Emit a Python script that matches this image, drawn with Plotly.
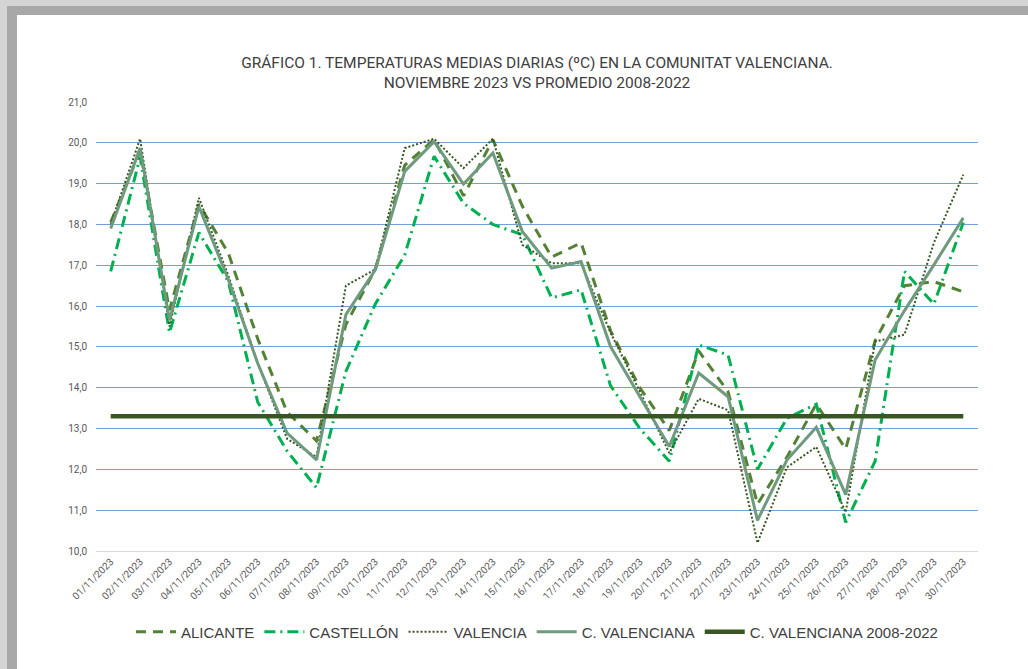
import plotly.graph_objects as go

dates = [f"{d:02d}/11/2023" for d in range(1, 31)]

alicante = [18.05, 19.8, 15.9, 18.5, 17.3, 15.2, 13.4, 12.7, 15.55, 16.9,
            19.45, 20.08, 18.7, 20.08, 18.45, 17.2, 17.55, 15.4, 14.0, 12.95,
            14.9, 13.9, 11.15, 12.3, 13.6, 12.5, 15.15, 16.5, 16.6, 16.35]
castellon = [16.85, 19.65, 15.35, 17.8, 16.6, 13.65, 12.45, 11.55, 14.4, 16.05,
             17.25, 19.67, 18.52, 18.0, 17.75, 16.2, 16.4, 14.05, 13.0, 12.2,
             15.05, 14.8, 12.0, 13.25, 13.6, 10.7, 12.2, 16.85, 16.05, 18.05]
valencia = [18.0, 20.1, 15.5, 18.65, 16.75, 14.6, 12.75, 12.3, 16.5, 16.9,
            19.87, 20.1, 19.38, 20.1, 17.5, 17.05, 17.05, 15.35, 13.9, 12.4,
            13.73, 13.45, 10.2, 12.05, 12.55, 10.95, 15.13, 15.3, 17.55, 19.22]
cvalenciana = [17.9, 19.87, 15.65, 18.44, 16.65, 14.6, 12.89, 12.23, 15.79, 16.89,
               19.3, 20.03, 18.99, 19.75, 17.83, 16.93, 17.09, 15.01, 13.78, 12.56,
               14.36, 13.78, 10.75, 12.23, 13.03, 11.38, 14.68, 15.89, 17.01, 18.16]
promedio = [13.3] * 30

W, H = 1028, 669
L, R, T, B = 96, 50, 102, 118
pw, ph = W - L - R, H - T - B

def px_x(p):
    return (p - L) / pw

def px_y(p):
    return (H - B - p) / ph

fig = go.Figure()
fig.add_trace(go.Scatter(x=dates, y=alicante, name="ALICANTE", mode="lines",
                         line=dict(color="#548235", width=3, dash="10px,7px")))
fig.add_trace(go.Scatter(x=dates, y=castellon, name="CASTELLÓN", mode="lines",
                         line=dict(color="#00B050", width=3, dash="11px,5px,2px,5px")))
fig.add_trace(go.Scatter(x=dates, y=valencia, name="VALENCIA", mode="lines",
                         line=dict(color="#375623", width=2, dash="2px,2px")))
fig.add_trace(go.Scatter(x=dates, y=cvalenciana, name="C. VALENCIANA", mode="lines",
                         line=dict(color="#6E9A7E", width=3)))
fig.add_trace(go.Scatter(x=dates, y=promedio, name="C. VALENCIANA 2008-2022", mode="lines",
                         line=dict(color="#375623", width=4.5)))

shapes = [
    dict(type="rect", xref="paper", yref="paper", x0=px_x(17), x1=px_x(W + 5),
         y0=px_y(H + 5), y1=px_y(15), fillcolor="white", line=dict(width=0), layer="below"),
    dict(type="rect", xref="paper", yref="paper", x0=px_x(-2), x1=px_x(17),
         y0=px_y(H + 5), y1=px_y(-2), fillcolor="#d4d4d4", line=dict(width=0), layer="below"),
    dict(type="rect", xref="paper", yref="paper", x0=px_x(-2), x1=px_x(W + 5),
         y0=px_y(15), y1=px_y(-2), fillcolor="#d4d4d4", line=dict(width=0), layer="below"),
    dict(type="rect", xref="paper", yref="paper", x0=px_x(7), x1=px_x(17),
         y0=px_y(H + 5), y1=px_y(6), fillcolor="#a8a8a8", line=dict(width=0), layer="below"),
    dict(type="rect", xref="paper", yref="paper", x0=px_x(7), x1=px_x(W + 5),
         y0=px_y(15), y1=px_y(6), fillcolor="#a8a8a8", line=dict(width=0), layer="below"),
]

fig.update_layout(
    width=W, height=H,
    margin=dict(l=L, r=R, t=T, b=B, pad=0),
    paper_bgcolor="white", plot_bgcolor="white",
    separators=",.",
    font=dict(family="Roboto, Arial, sans-serif", color="#595959"),
    title=dict(text="GRÁFICO 1. TEMPERATURAS MEDIAS DIARIAS (ºC) EN LA COMUNITAT VALENCIANA.<br>NOVIEMBRE 2023 VS PROMEDIO 2008-2022",
               x=0.5, xanchor="center", xref="paper", y=1 - 68 / H, yanchor="middle",
               font=dict(family="Roboto, Arial, sans-serif", size=15.5, color="#404040")),
    showlegend=True,
    legend=dict(orientation="h", x=0.5, xanchor="center", y=px_y(632), yanchor="middle",
                font=dict(family="Arial, Liberation Sans, sans-serif", size=15, color="#404040"),
                bgcolor="rgba(0,0,0,0)", itemwidth=40, tracegroupgap=0),
    shapes=shapes,
)
fig.update_xaxes(type="category", range=[-0.5, 29.5], tickangle=-45,
                 tickfont=dict(size=10, color="#595959"), showgrid=False,
                 showline=True, linecolor="#d9d9d9", linewidth=1, ticks="",
                 fixedrange=True)
fig.update_yaxes(range=[10, 21], dtick=1, tickformat=".1f",
                 tickfont=dict(size=10, color="#595959"),
                 showgrid=True, gridcolor="#6FA0DA", gridwidth=1.2,
                 zeroline=False, ticks="", ticklabelstandoff=8)

fig.write_html("out.html", config={"displayModeBar": False},
               post_script="document.body.style.margin='0';document.body.style.overflow='hidden';")
